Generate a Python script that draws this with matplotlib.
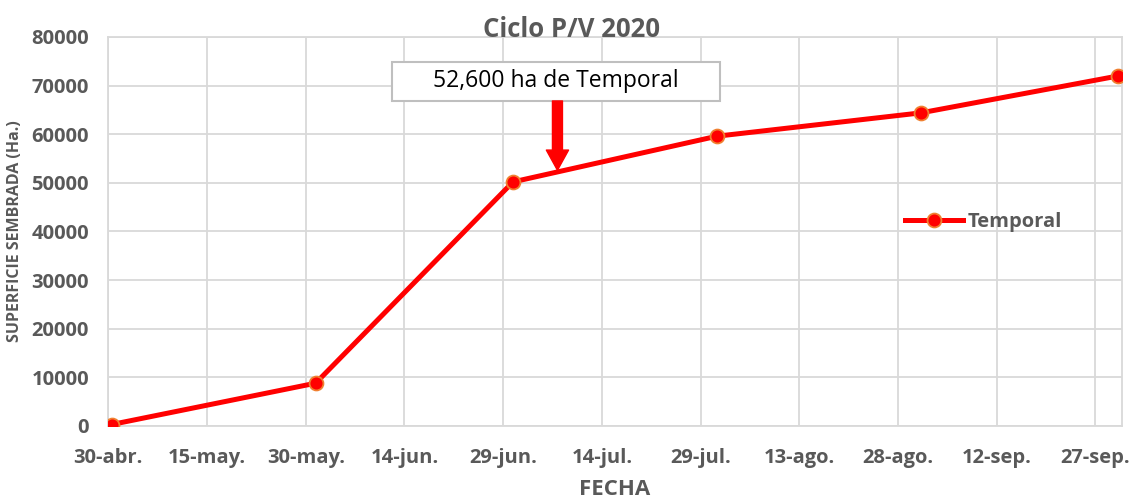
import matplotlib.pyplot as plt
import matplotlib.patches as mpatches
import pandas as pd

FECHAS = ['2020-04-30', '2020-05-31', '2020-06-30', '2020-07-31', '2020-08-31', '2020-09-30']
TEMPORAL = [300, 8800, 50200, 59600, 64400, 72000]

TICK_FECHAS = ['2020-04-30', '2020-05-15', '2020-05-30', '2020-06-14', '2020-06-29', '2020-07-14',
               '2020-07-29', '2020-08-13', '2020-08-28', '2020-09-12', '2020-09-27']
TICK_LABELS = ['30-abr.', '15-may.', '30-may.', '14-jun.', '29-jun.', '14-jul.',
               '29-jul.', '13-ago.', '28-ago.', '12-sep.', '27-sep.']

NOTA = '52,600 ha de Temporal'
NOTA_FECHA = '2020-07-07 06:00'
NOTA_VALOR = 52600

GRIS = '#595959'
GRID = '#d9d9d9'

plt.rcParams['font.family'] = ['Open Sans', 'DejaVu Sans']

if __name__ == '__main__':
    fig = plt.figure(figsize=(11.38, 5.04), dpi=100)
    ax = fig.add_axes([0.0952, 0.1548, 0.8905, 0.7718])

    # Excel date axis: points sit in the middle of their day
    x = pd.to_datetime(FECHAS) + pd.Timedelta(hours=12)
    ax.plot(x, TEMPORAL, color='#ff0000', lw=3.6, marker='o', ms=10,
            mfc='#ff0000', mec='#f08030', mew=1.3, label='Temporal', zorder=3)

    ax.set_xlim(pd.Timestamp('2020-04-30'), pd.Timestamp('2020-10-01'))
    ax.set_ylim(0, 80000)
    ax.set_xticks(pd.to_datetime(TICK_FECHAS))
    ax.set_xticklabels(TICK_LABELS)
    ax.yaxis.set_major_locator(plt.MultipleLocator(10000))

    ax.tick_params(axis='both', length=0, labelsize=14.5, labelcolor=GRIS)
    ax.tick_params(axis='x', pad=16)
    ax.tick_params(axis='y', pad=14)
    for lbl in ax.get_xticklabels() + ax.get_yticklabels():
        lbl.set_fontweight('bold')

    ax.grid(True, color=GRID, lw=1.3)
    ax.set_axisbelow(True)
    for s in ax.spines.values():
        s.set_color(GRID)
        s.set_linewidth(1.3)

    ax.set_xlabel('FECHA', fontsize=16, fontweight='bold', color=GRIS, labelpad=8)
    ax.set_ylabel('SUPERFICIE SEMBRADA (Ha.)', fontsize=11.5, fontweight='bold', color=GRIS, labelpad=6)
    fig.text(0.5026, 0.942, 'Ciclo P/V 2020', fontsize=18.5, fontweight='bold', color=GRIS,
             ha='center', va='center')

    # note box with arrow
    ax.add_patch(mpatches.Rectangle((0.280, 0.8355), 0.3236, 0.1002, transform=ax.transAxes,
                                    facecolor='white', edgecolor='#bfbfbf', lw=1.5, zorder=4))
    ax.text(0.4418, 0.886, NOTA, transform=ax.transAxes, fontsize=16.5,
            color='black', ha='center', va='center', zorder=5)
    nx = pd.Timestamp(NOTA_FECHA)
    ax.annotate('', xy=(nx, NOTA_VALOR), xytext=(nx, 0.8355), textcoords=('data', 'axes fraction'),
                arrowprops=dict(arrowstyle='simple,head_length=1.45,head_width=1.6,tail_width=0.72',
                                color='#ff0000', mutation_scale=10, shrinkA=0, shrinkB=0), zorder=5)

    leg = ax.legend(loc='center left', bbox_to_anchor=(0.786, 0.5244), frameon=False,
                    fontsize=14.5, handlelength=2.9, handletextpad=0.2, borderpad=0, borderaxespad=0)
    for t in leg.get_texts():
        t.set_color(GRIS)
        t.set_fontweight('bold')

    fig.savefig('out.png', dpi=100)
